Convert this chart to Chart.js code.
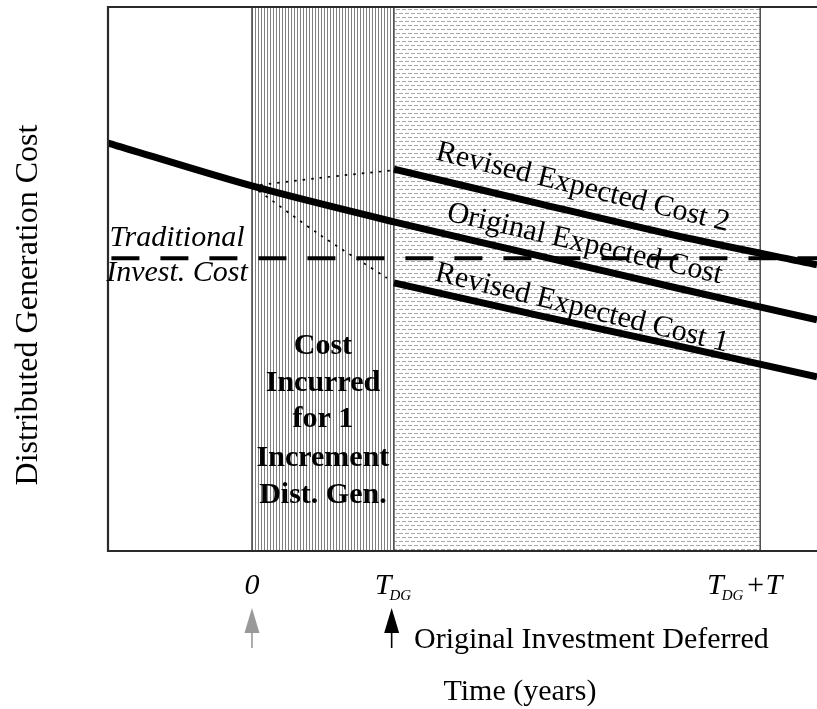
<!DOCTYPE html>
<html>
<head>
<meta charset="utf-8">
<script src="https://cdn.jsdelivr.net/npm/chart.js@4.4.1/dist/chart.umd.min.js"></script>
<style>
    html, body { margin: 0; padding: 0; background: #fff; overflow: hidden; }
    .chart-box { position: relative; width: 817px; height: 709px; }
</style>
</head>
<body>
<div class="chart-box"><canvas id="costChart"></canvas></div>
<script>
// x in units of T_DG (0 = start of DG, 1 = T_DG), y in arbitrary cost units (0..100)
const X_MIN = -1.014;
const X_MAX = 3.98;

const originalX = [-1.014, 0, 1, 2, 3, 3.98];
const originalCost = [75.0, 67.1, 60.5, 54.4, 48.3, 42.5];

const revisedX = [1, 2, 3, 3.98];
const revisedCost2 = [70.2, 64.0, 57.9, 52.6];
const revisedCost1 = [49.3, 43.4, 37.7, 32.0];

const traditionalX = [-0.99, 3.98];
const traditionalCost = [53.8, 53.8];

const transitionUpX = [0, 0.48, 1];
const transitionUpCost = [67.1, 68.6, 70.0];
const transitionDownX = [0, 0.48, 0.95];
const transitionDownCost = [67.1, 58.1, 50.2];

// shaded periods: [start, end]
const dgPeriod = [0, 1];
const deferredPeriod = [1, 3.58];

// x-axis marks: position, main text, subscript, trailing text
const tickValues = [0, 1, 3.47];
const tickMain = ['0', 'T', 'T'];
const tickSub = ['', 'DG', 'DG'];
const tickTail = ['', '', '+T'];

const FONT = '"Liberation Serif", "Times New Roman", serif';

const toPoints = (xs, ys) => xs.map((x, i) => ({ x, y: ys[i] }));

const canvas = document.getElementById('costChart');
const ctx = canvas.getContext('2d');

function makePattern(w, h, draw) {
    const c = document.createElement('canvas');
    c.width = w;
    c.height = h;
    const g = c.getContext('2d');
    g.fillStyle = '#fff';
    g.fillRect(0, 0, w, h);
    draw(g);
    return ctx.createPattern(c, 'repeat');
}

const verticalHatch = makePattern(3, 4, g => {
    g.fillStyle = '#808080';
    g.fillRect(0, 0, 1, 4);
});

const dashHatch = makePattern(6, 8, g => {
    g.fillStyle = '#a8a8a8';
    g.fillRect(0, 1, 4, 1);
    g.fillRect(3, 5, 3, 1);
    g.fillRect(0, 5, 1, 1);
});

const periodFill = (range, pattern) => ({
    data: [{ x: range[0], y: 100 }, { x: range[1], y: 100 }],
    backgroundColor: pattern,
    borderWidth: 0,
    fill: 'start',
    order: 20
});

const boundary = x => ({
    data: [{ x, y: 0 }, { x, y: 100 }],
    borderColor: '#4a4a4a',
    borderWidth: 1.5,
    order: 15
});

const thickCurve = (xs, ys) => ({
    data: toPoints(xs, ys),
    borderColor: '#000',
    borderWidth: 7,
    tension: 0.3,
    borderCapStyle: 'butt',
    order: 1
});

const dottedCurve = (xs, ys) => ({
    data: toPoints(xs, ys),
    borderColor: '#000',
    borderWidth: 1.7,
    borderDash: [2.5, 6],
    tension: 0.3,
    order: 3
});

// in-plot captions, positions in data units
const curveLabels = [
    { text: 'Revised Expected Cost 2', x: 2.317, y: 65.4, angle: 13.8 },
    { text: 'Original Expected Cost', x: 2.331, y: 55.0, angle: 13.0 },
    { text: 'Revised Expected Cost 1', x: 2.31, y: 43.2, angle: 13.7 }
];
const traditionalLabel = [
    { text: 'Traditional', x: -0.528, y: 56.1 },
    { text: 'Invest. Cost', x: -0.528, y: 49.6 }
];
const dgBlockLabel = ['Cost', 'Incurred', 'for 1', 'Increment', 'Dist. Gen.'];
const dgBlockBaselines = [36.2, 29.4, 22.8, 15.6, 8.8];

const decorations = {
    id: 'decorations',
    afterDatasetsDraw(chart) {
        const { ctx: c, chartArea: area, scales: { x, y } } = chart;
        c.save();

        // frame: left, top and bottom edges
        c.strokeStyle = '#2a2a2a';
        c.lineWidth = 2.2;
        c.beginPath();
        c.moveTo(area.right + 2, area.top);
        c.lineTo(area.left, area.top);
        c.lineTo(area.left, area.bottom);
        c.lineTo(area.right + 2, area.bottom);
        c.stroke();

        c.fillStyle = '#000';

        // rotated curve captions
        c.font = `30px ${FONT}`;
        c.textAlign = 'center';
        c.textBaseline = 'alphabetic';
        curveLabels.forEach(l => {
            c.save();
            c.translate(x.getPixelForValue(l.x), y.getPixelForValue(l.y));
            c.rotate(l.angle * Math.PI / 180);
            c.fillText(l.text, 0, 0);
            c.restore();
        });

        c.font = `italic 30px ${FONT}`;
        traditionalLabel.forEach(l => {
            c.fillText(l.text, x.getPixelForValue(l.x), y.getPixelForValue(l.y));
        });

        c.font = `bold 30px ${FONT}`;
        const midDG = x.getPixelForValue((dgPeriod[0] + dgPeriod[1]) / 2);
        dgBlockLabel.forEach((t, i) => {
            c.fillText(t, midDG, y.getPixelForValue(dgBlockBaselines[i]));
        });

        // x-axis marks with subscripts
        const tickBase = area.bottom + 43;
        tickValues.forEach((v, i) => {
            c.font = `italic 30px ${FONT}`;
            const wMain = c.measureText(tickMain[i]).width;
            const wTail = c.measureText(tickTail[i]).width;
            c.font = `italic 15px ${FONT}`;
            const wSub = c.measureText(tickSub[i]).width;
            let px = x.getPixelForValue(v) - (wMain + wSub + wTail) / 2;
            c.textAlign = 'left';
            c.font = `italic 30px ${FONT}`;
            c.fillText(tickMain[i], px, tickBase);
            px += wMain;
            c.font = `italic 15px ${FONT}`;
            c.fillText(tickSub[i], px - 2, tickBase + 6);
            px += wSub;
            c.font = `italic 30px ${FONT}`;
            c.fillText(tickTail[i], px, tickBase);
        });

        // arrows under the axis
        const arrow = (xv, color) => {
            const ax = x.getPixelForValue(xv);
            const top = area.bottom + 57;
            c.fillStyle = color;
            c.strokeStyle = color;
            c.beginPath();
            c.moveTo(ax, top);
            c.lineTo(ax - 7.5, top + 25);
            c.lineTo(ax + 7.5, top + 25);
            c.closePath();
            c.fill();
            c.lineWidth = 1.6;
            c.beginPath();
            c.moveTo(ax, top + 20);
            c.lineTo(ax, top + 40);
            c.stroke();
        };
        arrow(0, '#999');
        arrow(0.984, '#000');

        c.fillStyle = '#000';
        c.font = `30px ${FONT}`;
        c.textAlign = 'left';
        c.fillText('Original Investment Deferred', 414, area.bottom + 97);

        c.textAlign = 'center';
        c.fillText('Time (years)', 520, area.bottom + 149);

        // y-axis title
        c.save();
        c.translate(37, 305);
        c.rotate(-Math.PI / 2);
        c.font = `32px ${FONT}`;
        c.fillText('Distributed Generation Cost', 0, 0);
        c.restore();

        c.restore();
    }
};

new Chart(canvas, {
    type: 'line',
    data: {
        datasets: [
            periodFill(dgPeriod, verticalHatch),
            periodFill(deferredPeriod, dashHatch),
            boundary(dgPeriod[0]),
            boundary(dgPeriod[1]),
            boundary(deferredPeriod[1]),
            {
                data: toPoints(traditionalX, traditionalCost),
                borderColor: '#000',
                borderWidth: 4,
                borderDash: [28, 21],
                order: 5
            },
            dottedCurve(transitionUpX, transitionUpCost),
            dottedCurve(transitionDownX, transitionDownCost),
            thickCurve(originalX, originalCost),
            thickCurve(revisedX, revisedCost2),
            thickCurve(revisedX, revisedCost1)
        ]
    },
    options: {
        responsive: true,
        maintainAspectRatio: false,
        animation: false,
        layout: { padding: { left: 108, top: 7, right: 0, bottom: 158 } },
        elements: { point: { radius: 0, hoverRadius: 0 } },
        scales: {
            x: { type: 'linear', min: X_MIN, max: X_MAX, display: false },
            y: { type: 'linear', min: 0, max: 100, display: false }
        },
        plugins: {
            legend: { display: false },
            tooltip: { enabled: false }
        }
    },
    plugins: [decorations]
});
</script>
</body>
</html>
